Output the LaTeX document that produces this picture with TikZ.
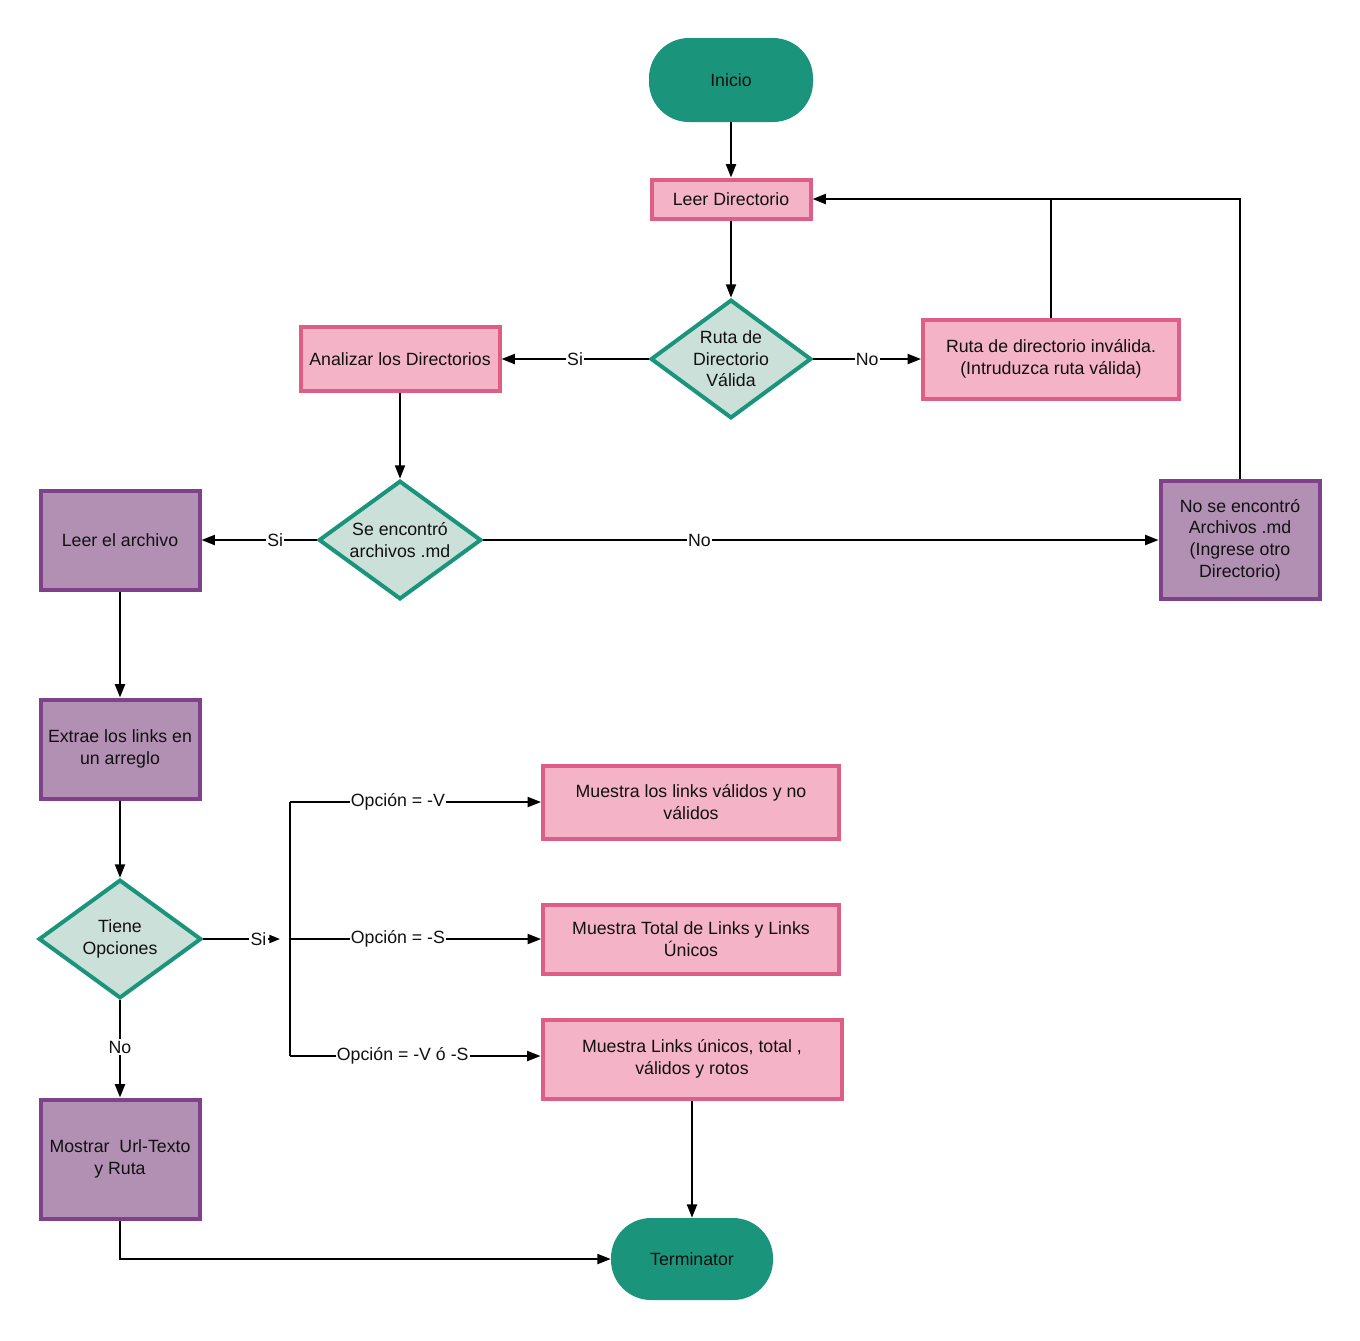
\documentclass[tikz,border=0pt]{standalone}
\usepackage{fontspec}
\setmainfont{Liberation Sans}
\usetikzlibrary{arrows.meta,shapes.geometric}
\definecolor{teal1}{HTML}{1A957C}
\definecolor{pinkfill}{HTML}{F4B3C7}
\definecolor{pinkline}{HTML}{DE5F86}
\definecolor{purfill}{HTML}{B290B4}
\definecolor{purline}{HTML}{80418B}
\definecolor{dfill}{HTML}{CCE0DA}
\definecolor{txt}{HTML}{111111}
\begin{document}
\begin{tikzpicture}[x=0.75pt,y=-0.75pt,
  every node/.style={font=\fontsize{13.3}{16.2}\selectfont, text=txt},
  term/.style={fill=teal1, rounded corners=30pt, align=center, inner sep=0pt},
  pbox/.style={draw=pinkline, fill=pinkfill, line width=3pt, align=center, inner sep=0pt},
  vbox/.style={draw=purline, fill=purfill, line width=3pt, align=center, inner sep=0pt},
  dec/.style={shape=diamond, draw=teal1, fill=dfill, line width=3pt, align=center, inner sep=0pt, aspect=1.34},
  conn/.style={line width=1.5pt, -{Triangle[length=10pt,width=7.5pt]}},
  plain/.style={line width=1.5pt},
  lbl/.style={fill=white, inner sep=1pt}
]
\useasboundingbox (0,0) rectangle (1360,1340);
\fill[white] (0,0) rectangle (1360,1340);

% nodes
\node[term, minimum width=123pt, minimum height=63pt] (inicio) at (731,80) {Inicio};
\node[pbox, minimum width=119.25pt, minimum height=29.25pt] (leer) at (731,199) {Leer Directorio};
\node[dec, minimum width=120.5pt, minimum height=89pt] (ruta) at (731,359) {Ruta de\\Directorio\\Válida};
\node[pbox, minimum width=149.25pt, minimum height=48pt] (anal) at (400,359) {Analizar los Directorios};
\node[pbox, minimum width=192pt, minimum height=59.25pt] (inval) at (1051,359) {Ruta de directorio inválida.\\(Intruduzca ruta válida)};
\node[dec, minimum width=122pt, minimum height=89pt] (se) at (400,540) {Se encontró\\archivos .md};
\node[vbox, minimum width=119.25pt, minimum height=74.25pt] (leerarch) at (120,540) {Leer el archivo};
\node[vbox, minimum width=119.25pt, minimum height=88.5pt] (nose) at (1240,540) {No se encontró\\Archivos .md\\(Ingrese otro\\Directorio)};
\node[vbox, minimum width=119.25pt, minimum height=74.25pt] (extrae) at (120,749) {Extrae los links en\\un arreglo};
\node[dec, minimum width=122pt, minimum height=89pt] (tiene) at (120,939) {Tiene\\Opciones};
\node[vbox, minimum width=119.25pt, minimum height=89.25pt] (mostrar) at (120,1159) {Mostrar\ \ Url-Texto\\y Ruta};
\node[pbox, minimum width=222pt, minimum height=54.75pt] (m1) at (691,802) {Muestra los links válidos y no\\válidos};
\node[pbox, minimum width=222pt, minimum height=51.75pt] (m2) at (691,939) {Muestra Total de Links y Links\\Únicos};
\node[pbox, minimum width=224.25pt, minimum height=59.25pt] (m3) at (692,1059) {Muestra Links únicos, total ,\\válidos y rotos};
\node[term, minimum width=121.5pt, minimum height=61.5pt] (term) at (692,1259) {Terminator};

% connectors
\draw[conn] (inicio) -- (leer);
\draw[conn] (leer) -- (ruta);
\draw[conn] (ruta) -- node[lbl]{Si} (anal);
\draw[conn] (ruta) -- node[lbl]{No} (inval);
\draw[conn] (inval.north) |- (leer.east);
\draw[plain] (nose.north) |- (inval.north |- leer.east);
\draw[conn] (anal) -- (se);
\draw[conn] (se) -- node[lbl,pos=0.36]{Si} (leerarch);
\draw[conn] (se) -- node[lbl,pos=0.32]{No} (nose);
\draw[conn] (leerarch) -- (extrae);
\draw[conn] (extrae) -- (tiene);
\draw[conn] (tiene) -- node[lbl,pos=0.48]{No} (mostrar);

\coordinate (si) at (280,939);
\coordinate (t1) at (290,802);
\coordinate (t2) at (290,939);
\coordinate (t3) at (290,1056);
\draw[plain] (t1) -- (t3);
\draw[line width=1.5pt, -{Triangle[length=8pt,width=6pt]}] (tiene) -- node[lbl,pos=0.72]{Si} (si);
\draw[conn] (t1) -- node[lbl,pos=0.43]{Opción = -V} (m1);
\draw[conn] (t2) -- node[lbl,pos=0.43]{Opción = -S} (m2);
\draw[conn] (t3) -- node[lbl,pos=0.45]{Opción = -V ó -S} (t3 -| m3.west);
\draw[conn] (m3) -- (term);
\draw[conn] (mostrar.south) |- (term.west);
\end{tikzpicture}
\end{document}
